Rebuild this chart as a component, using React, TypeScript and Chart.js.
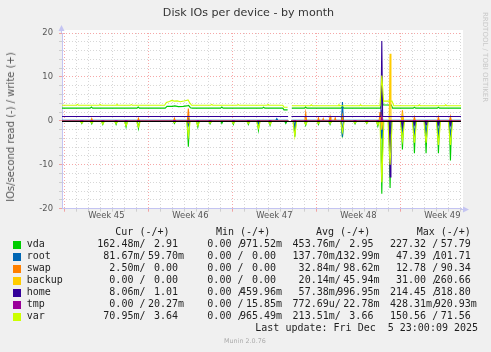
import React, { useEffect, useRef } from "react";
import { Chart, registerables } from "chart.js";

Chart.register(...registerables);

type Pt = [number, number | null];

// ---------- axes / labels ----------
const TITLE = "Disk IOs per device - by month";
const Y_TITLE = "IOs/second read (-) / write (+)";
const X_MIN = -0.2; // days since Monday of week 45
const X_MAX = 33.05;
const WEEK_LABELS = ["Week 45", "Week 46", "Week 47", "Week 48", "Week 49"];
const WEEK_LABEL_DAYS = [3.5, 10.5, 17.5, 24.5, 31.5];
const WEEK_START_DAYS = [0, 7, 14, 21, 28];
const Y_MIN = -20;
const Y_MAX = 20;
const Y_STEP = 2;
const Y_LABEL_STEP = 10;

const SERIES_NAMES = ["vda", "root", "swap", "backup", "home", "tmp", "var"];
const SERIES_COLORS = ["#00cc00", "#0066b3", "#ff8000", "#ffcc00", "#330099", "#990099", "#ccff00"];

// ---------- series (day, value) ----------
const vdaRead: Pt[] = [[-0.2,-0.05],[1.35,-0.05],[1.45,-0.6],[1.55,-0.05],[2.18,-0.05],[2.28,-0.7],[2.38,-0.05],[3.1,-0.05],[3.2,-0.8],[3.3,-0.05],[4.21,-0.05],[4.31,-0.8],[4.41,-0.05],[5.04,-0.05],[5.14,-1.4],[5.24,-0.05],[6.07,-0.05],[6.17,-1.7],[6.27,-0.05],[9.07,-0.05],[9.17,-0.6],[9.27,-0.05],[10.23,-0.05],[10.33,-5.9],[10.43,-0.05],[11.02,-0.05],[11.12,-1.4],[11.22,-0.05],[12.04,-0.05],[12.14,-0.7],[12.24,-0.05],[13.02,-0.05],[13.12,-0.6],[13.22,-0.05],[13.98,-0.05],[14.08,-0.8],[14.18,-0.05],[15.23,-0.05],[15.33,-0.8],[15.43,-0.05],[16.07,-0.05],[16.17,-2.1],[16.27,-0.05],[17.04,-0.05],[17.14,-1.0],[17.24,-0.05],[18.35,-0.05],[18.45,-0.6],[18.55,-0.05],[18.64,-0.05],[18.78,null],[18.92,-0.05],[19.1,-0.05],[19.2,-3.6],[19.3,-0.05],[20.01,-0.05],[20.11,-1.0],[20.21,-0.05],[21.07,-0.05],[21.17,-0.8],[21.27,-0.05],[22.04,-0.05],[22.14,-0.8],[22.24,-0.05],[23.07,-0.05],[23.17,-3.8],[23.27,-0.05],[24.12,-0.05],[24.22,-0.7],[24.32,-0.05],[25.1,-0.05],[25.2,-0.6],[25.3,-0.05],[26.02,-0.05],[26.12,-1.2],[26.22,-0.05],[26.35,-0.05],[26.45,-16.6],[26.55,-0.05],[27.04,-0.05],[27.14,-15.3],[27.24,-0.05],[28.07,-0.05],[28.17,-6.5],[28.27,-0.05],[29.07,-0.05],[29.17,-7.4],[29.27,-0.05],[30.04,-0.05],[30.14,-7.4],[30.24,-0.05],[31.07,-0.05],[31.17,-7.4],[31.27,-0.05],[32.07,-0.05],[32.17,-9.0],[32.27,-0.05],[33.05,-0.05]];
const vdaWrite: Pt[] = [[-0.2,2.9],[2.15,2.9],[2.25,3.15],[2.35,2.9],[6.05,2.9],[6.15,3.15],[6.25,2.9],[8.4,2.9],[8.55,3.3],[9.0,3.3],[9.2,3.4],[9.5,3.25],[9.9,3.3],[10.2,3.4],[10.35,3.5],[10.5,3.0],[10.65,2.9],[13.02,2.9],[13.12,3.15],[13.22,2.9],[16.5,2.9],[16.6,3.1],[16.7,2.9],[18.2,2.9],[18.3,2.5],[18.6,2.5],[18.78,null],[18.95,2.9],[20.0,2.9],[20.1,3.15],[20.2,2.9],[23.07,2.9],[23.17,3.3],[23.27,2.9],[26.35,2.9],[26.45,8.0],[26.55,3.6],[27.25,3.6],[27.35,2.9],[29.07,2.9],[29.17,3.1],[29.27,2.9],[31.07,2.9],[31.17,3.1],[31.27,2.9],[33.05,2.9]];
const rootRead: Pt[] = [[-0.2,-0.13],[10.25,-0.13],[10.33,-1.0],[10.41,-0.13],[16.1,-0.13],[16.17,-0.6],[16.24,-0.13],[18.64,-0.13],[18.78,null],[18.92,-0.13],[19.12,-0.13],[19.2,-1.5],[19.28,-0.13],[23.09,-0.13],[23.17,-3.6],[23.25,-0.13],[26.35,-0.13],[26.45,-4.0],[26.55,-0.13],[27.06,-0.13],[27.14,-3.0],[27.22,-0.13],[28.03,-0.13],[28.17,-2.2],[28.31,-0.13],[29.03,-0.13],[29.17,-2.8],[29.31,-0.13],[30.0,-0.13],[30.14,-2.8],[30.28,-0.13],[31.03,-0.13],[31.17,-2.8],[31.31,-0.13],[32.03,-0.13],[32.17,-3.2],[32.31,-0.13],[33.05,-0.13]];
const rootWrite: Pt[] = [[-0.2,0.13],[10.25,0.13],[10.33,0.6],[10.41,0.13],[17.62,0.13],[17.7,0.5],[17.78,0.13],[18.64,0.13],[18.78,null],[18.92,0.13],[23.09,0.13],[23.17,4.3],[23.25,0.13],[26.37,0.13],[26.45,2.5],[26.53,0.13],[28.1,0.13],[28.17,0.8],[28.24,0.13],[33.05,0.13]];
const swapRead: Pt[] = [[-0.2,0],[10.26,0],[10.33,-0.4],[10.4,0],[18.64,0],[18.78,null],[18.92,0],[26.38,0],[26.45,-0.8],[26.52,0],[33.05,0]];
const swapWrite: Pt[] = [[-0.2,0],[2.21,0],[2.28,0.5],[2.35,0],[6.1,0],[6.17,0.6],[6.24,0],[9.1,0],[9.17,0.6],[9.24,0],[10.25,0],[10.33,2.8],[10.41,0],[18.64,0],[18.78,null],[18.92,0],[20.04,0],[20.11,1.8],[20.18,0],[21.1,0],[21.17,0.7],[21.24,0],[21.5,0],[21.57,0.5],[21.64,0],[22.07,0],[22.14,1.0],[22.21,0],[22.5,0],[22.57,0.7],[22.64,0],[23.1,0],[23.17,1.2],[23.24,0],[26.23,0],[26.3,2.0],[26.37,0],[28.1,0],[28.17,2.4],[28.24,0],[29.1,0],[29.17,0.9],[29.24,0],[31.1,0],[31.17,0.9],[31.24,0],[32.1,0],[32.17,1.0],[32.24,0],[33.05,0]];
const backupRead: Pt[] = [[-0.2,0],[18.64,0],[18.78,null],[18.92,0],[26.38,0],[26.45,-2.0],[26.52,0],[33.05,0]];
const backupWrite: Pt[] = [[-0.2,0],[18.64,0],[18.78,null],[18.92,0],[26.38,0],[26.45,1.0],[26.52,0],[27.07,0],[27.14,15.3],[27.21,0],[28.1,0],[28.17,1.5],[28.24,0],[33.05,0]];
const homeRead: Pt[] = [[-0.2,-0.05],[18.64,-0.05],[18.78,null],[18.92,-0.05],[27.07,-0.05],[27.14,-12.8],[27.21,-0.05],[28.1,-0.05],[28.17,-1.2],[28.24,-0.05],[29.1,-0.05],[29.17,-0.9],[29.24,-0.05],[30.07,-0.05],[30.14,-0.9],[30.21,-0.05],[31.1,-0.05],[31.17,-0.9],[31.24,-0.05],[32.1,-0.05],[32.17,-1.0],[32.24,-0.05],[33.05,-0.05]];
const homeWrite: Pt[] = [[-0.2,1.0],[18.64,1.0],[18.78,null],[18.92,1.0],[26.38,1.0],[26.45,18.2],[26.52,1.0],[33.05,1.0]];
const tmpRead: Pt[] = [[-0.2,0],[18.64,0],[18.78,null],[18.92,0],[33.05,0]];
const tmpWrite: Pt[] = [[-0.2,0.02],[18.64,0.02],[18.78,null],[18.92,0.02],[26.38,0.02],[26.45,0.9],[26.52,0.02],[33.05,0.02]];
const varRead: Pt[] = [[-0.2,-0.1],[1.3,-0.1],[1.45,-0.5],[1.6,-0.1],[2.13,-0.1],[2.28,-0.5],[2.43,-0.1],[3.05,-0.1],[3.2,-0.7],[3.35,-0.1],[4.16,-0.1],[4.31,-0.6],[4.46,-0.1],[4.99,-0.1],[5.14,-1.1],[5.29,-0.1],[6.02,-0.1],[6.17,-1.4],[6.32,-0.1],[9.02,-0.1],[9.17,-0.4],[9.32,-0.1],[10.18,-0.1],[10.33,-3.5],[10.48,-0.1],[10.97,-0.1],[11.12,-1.1],[11.27,-0.1],[11.99,-0.1],[12.14,-0.5],[12.29,-0.1],[13.93,-0.1],[14.08,-0.6],[14.23,-0.1],[15.18,-0.1],[15.33,-0.6],[15.48,-0.1],[16.02,-0.1],[16.17,-1.7],[16.32,-0.1],[16.99,-0.1],[17.14,-0.8],[17.29,-0.1],[18.64,-0.1],[18.78,null],[18.92,-0.1],[19.05,-0.1],[19.2,-3.5],[19.35,-0.1],[19.96,-0.1],[20.11,-0.8],[20.26,-0.1],[21.02,-0.1],[21.17,-0.6],[21.32,-0.1],[21.99,-0.1],[22.14,-0.6],[22.29,-0.1],[23.02,-0.1],[23.17,-2.5],[23.32,-0.1],[24.07,-0.1],[24.22,-0.5],[24.37,-0.1],[25.05,-0.1],[25.2,-0.5],[25.35,-0.1],[25.97,-0.1],[26.12,-0.9],[26.27,-0.1],[26.3,-0.1],[26.45,-14.0],[26.62,-0.1],[26.96,-0.1],[27.14,-10.0],[27.32,-0.1],[27.99,-0.1],[28.17,-4.5],[28.35,-0.1],[28.99,-0.1],[29.17,-5.0],[29.35,-0.1],[29.96,-0.1],[30.14,-5.0],[30.32,-0.1],[30.99,-0.1],[31.17,-5.5],[31.35,-0.1],[31.99,-0.1],[32.17,-5.5],[32.35,-0.1],[33.05,-0.1]];
const varWrite: Pt[] = [[-0.2,3.55],[1.0,3.55],[1.08,3.75],[1.16,3.55],[2.9,3.55],[2.98,3.75],[3.06,3.55],[4.3,3.55],[4.38,3.75],[4.46,3.55],[5.5,3.55],[5.58,3.7],[5.66,3.55],[8.35,3.55],[8.5,4.2],[8.75,4.4],[8.95,4.65],[9.15,4.5],[9.4,4.55],[9.65,4.35],[9.95,4.5],[10.15,4.65],[10.3,4.75],[10.45,4.1],[10.6,3.55],[12.2,3.55],[12.28,3.75],[12.36,3.55],[14.4,3.55],[14.48,3.7],[14.56,3.55],[16.9,3.55],[16.98,3.75],[17.06,3.55],[18.2,3.55],[18.3,3.1],[18.6,3.1],[18.78,null],[18.95,3.45],[20.5,3.45],[20.58,3.65],[20.66,3.45],[22.8,3.45],[22.88,3.65],[22.96,3.45],[24.6,3.45],[24.68,3.65],[24.76,3.45],[26.3,3.45],[26.45,10.3],[26.6,4.5],[27.3,4.5],[27.45,3.45],[29.5,3.45],[29.58,3.65],[29.66,3.45],[31.7,3.45],[31.78,3.65],[31.86,3.45],[33.05,3.45]];

const READ_SERIES = [vdaRead, rootRead, swapRead, backupRead, homeRead, tmpRead, varRead];
const WRITE_SERIES = [vdaWrite, rootWrite, swapWrite, backupWrite, homeWrite, tmpWrite, varWrite];

// ---------- legend statistics ----------
const CUR_READ = ["162.48m", "81.67m", "2.50m", "0.00", "8.06m", "0.00", "70.95m"];
const CUR_WRITE = ["2.91", "59.70m", "0.00", "0.00", "1.01", "20.27m", "3.64"];
const MIN_READ = ["0.00", "0.00", "0.00", "0.00", "0.00", "0.00", "0.00"];
const MIN_WRITE = ["971.52m", "0.00", "0.00", "0.00", "459.96m", "15.85m", "965.49m"];
const AVG_READ = ["453.76m", "137.70m", "32.84m", "20.14m", "57.38m", "772.69u", "213.51m"];
const AVG_WRITE = ["2.95", "132.99m", "98.62m", "45.94m", "996.95m", "22.78m", "3.66"];
const MAX_READ = ["227.32", "47.39", "12.78", "31.00", "214.45", "428.31m", "150.56"];
const MAX_WRITE = ["57.79", "101.71", "90.34", "260.66", "318.80", "920.93m", "71.56"];
const COLUMN_HEADERS = ["Cur (-/+)", "Min (-/+)", "Avg (-/+)", "Max (-/+)"];
const LAST_UPDATE = "Last update: Fri Dec  5 23:00:09 2025";
const FOOTER = "Munin 2.0.76";
const WATERMARK = "RRDTOOL / TOBI OETIKER";

// ---------- styling ----------
const MAJOR_GRID = "rgba(240,110,110,0.6)";
const MINOR_GRID = "rgba(160,160,160,0.42)";
const AXIS_COLOR = "#c4c4f2";
const TICK_FONT = { family: "DejaVu Sans", size: 8.4 };
const MONO = "'DejaVu Sans Mono', monospace";

const DAY_TICKS: number[] = [];
for (let d = 0; d <= 33; d += 0.5) DAY_TICKS.push(d);

function splitSuffix(s: string): [string, string] {
  const last = s.slice(-1);
  if (/[a-zA-Z]/.test(last)) return [s.slice(0, -1), last];
  return [s, " "];
}
function readField(s: string) {
  const [n, suf] = splitSuffix(s);
  return n.padStart(6) + suf + "/";
}
function writeField(s: string) {
  const [n, suf] = splitSuffix(s);
  return n.padStart(6) + suf;
}

const muninPlugin = {
  id: "muninDeco",
  beforeDraw(chart: any) {
    const { ctx, chartArea: a } = chart;
    ctx.save();
    ctx.fillStyle = "#ffffff";
    ctx.fillRect(a.left, a.top - 3, a.right - a.left + 2, a.bottom - a.top + 3);
    ctx.restore();
  },
  afterDatasetsDraw(chart: any) {
    const { ctx, chartArea: a, scales } = chart;
    const y0 = Math.round(scales.y.getPixelForValue(0)) + 0.5;
    ctx.save();
    ctx.strokeStyle = "#000000";
    ctx.lineWidth = 1;
    ctx.beginPath();
    ctx.moveTo(a.left, y0);
    ctx.lineTo(a.right, y0);
    ctx.stroke();
    ctx.restore();
  },
  afterDraw(chart: any) {
    const { ctx, chartArea: a } = chart;
    const lx = Math.round(a.left) - 0.5;
    const by = Math.round(a.bottom) + 0.5;
    ctx.save();
    ctx.strokeStyle = AXIS_COLOR;
    ctx.fillStyle = AXIS_COLOR;
    ctx.lineWidth = 1;
    ctx.beginPath();
    ctx.moveTo(lx, a.top);
    ctx.lineTo(lx, a.top - 3);
    ctx.moveTo(a.right, by);
    ctx.lineTo(a.right + 3, by);
    ctx.stroke();
    ctx.beginPath();
    ctx.moveTo(lx - 3, a.top - 2);
    ctx.lineTo(lx + 3, a.top - 2);
    ctx.lineTo(lx, a.top - 8);
    ctx.closePath();
    ctx.fill();
    ctx.beginPath();
    ctx.moveTo(a.right + 2, by - 3);
    ctx.lineTo(a.right + 2, by + 3);
    ctx.lineTo(a.right + 8, by);
    ctx.closePath();
    ctx.fill();
    ctx.restore();
  },
};

export default function App() {
  const canvasRef = useRef<HTMLCanvasElement | null>(null);

  useEffect(() => {
    const canvas = canvasRef.current;
    if (!canvas) return;
    const datasets: any[] = [];
    SERIES_NAMES.forEach((name, i) => {
      const order = SERIES_NAMES.length - i;
      [READ_SERIES[i], WRITE_SERIES[i]].forEach((pts, k) => {
        datasets.push({
          label: name + (k === 0 ? " read" : " write"),
          data: pts.map(([x, y]) => ({ x, y })),
          borderColor: SERIES_COLORS[i],
          backgroundColor: SERIES_COLORS[i],
          borderWidth: 1.1,
          pointRadius: 0,
          tension: 0,
          fill: false,
          spanGaps: false,
          order: order * 2 - k,
        });
      });
    });

    const chart = new Chart(canvas, {
      type: "line",
      data: { datasets },
      plugins: [muninPlugin],
      options: {
        responsive: false,
        animation: false,
        devicePixelRatio: 1,
        events: [],
        layout: { padding: { top: 33, right: 30, left: 0, bottom: 0 } },
        plugins: { legend: { display: false }, tooltip: { enabled: false }, title: { display: false } },
        scales: {
          x: {
            type: "linear",
            min: X_MIN,
            max: X_MAX,
            afterBuildTicks: (axis: any) => {
              axis.ticks = DAY_TICKS.map((v) => ({ value: v }));
            },
            afterFit: (scale: any) => {
              scale.height = 352 - 208.7;
            },
            ticks: {
              autoSkip: false,
              maxRotation: 0,
              minRotation: 0,
              padding: -1,
              color: "#555555",
              font: TICK_FONT,
              callback: (value: any) => {
                const idx = WEEK_LABEL_DAYS.indexOf(Number(value));
                return idx >= 0 ? WEEK_LABELS[idx] : "";
              },
            },
            grid: {
              color: (ctx: any) => {
                const v = ctx.tick ? ctx.tick.value : null;
                if (v === null || v === undefined) return "rgba(0,0,0,0)";
                if (WEEK_START_DAYS.includes(v)) return MAJOR_GRID;
                if (Number.isInteger(v)) return MINOR_GRID;
                return "rgba(0,0,0,0)";
              },
              tickLength: 3,
              tickBorderDash: [],
            },
            border: { display: true, color: AXIS_COLOR, width: 1, dash: [1, 2] },
          },
          y: {
            type: "linear",
            min: Y_MIN,
            max: Y_MAX,
            afterFit: (scale: any) => {
              scale.width = 62;
            },
            ticks: {
              stepSize: Y_STEP,
              autoSkip: false,
              padding: 6,
              color: "#555555",
              font: TICK_FONT,
              callback: (value: any) => (Number(value) % Y_LABEL_STEP === 0 ? String(value) : ""),
            },
            grid: {
              color: (ctx: any) => {
                const v = ctx.tick ? ctx.tick.value : 0;
                return v % Y_LABEL_STEP === 0 ? MAJOR_GRID : MINOR_GRID;
              },
              tickLength: 3,
              tickBorderDash: [],
            },
            border: { display: true, color: AXIS_COLOR, width: 1, dash: [1, 2] },
          },
        },
      } as any,
    });
    return () => chart.destroy();
  }, []);

  const readX = [97.3, 195.3, 292.6, 390];
  const writeOffset = 44.7;
  const headerX = [115.3, 216, 316, 416.7];
  const textStyle: React.CSSProperties = {
    position: "absolute",
    fontFamily: MONO,
    fontSize: 10,
    lineHeight: "12px",
    whiteSpace: "pre",
    color: "#1e1e1e",
  };
  const rowTop = (c: number) => c - 6.3;
  const columns = [
    [CUR_READ, CUR_WRITE],
    [MIN_READ, MIN_WRITE],
    [AVG_READ, AVG_WRITE],
    [MAX_READ, MAX_WRITE],
  ];

  return (
    <div
      style={{
        position: "absolute",
        left: 0,
        top: 0,
        width: 491,
        height: 352,
        background: "#f0f0f0",
        overflow: "hidden",
      }}
    >
      <canvas ref={canvasRef} width={491} height={352} style={{ position: "absolute", left: 0, top: 0 }} />
      <div
        style={{
          position: "absolute",
          left: 248.5,
          top: 5.5,
          transform: "translateX(-50%)",
          whiteSpace: "nowrap",
          fontFamily: "'DejaVu Sans'",
          fontSize: 11.1,
          lineHeight: "13px",
          color: "#333333",
        }}
      >
        {TITLE}
      </div>
      <div
        style={{
          position: "absolute",
          left: 10.7,
          top: 126.7,
          transform: "translate(-50%, -50%) rotate(-90deg)",
          whiteSpace: "nowrap",
          fontFamily: "'DejaVu Sans'",
          fontSize: 10,
          lineHeight: "12px",
          color: "#555555",
        }}
      >
        {Y_TITLE}
      </div>
      <div
        style={{
          position: "absolute",
          left: 480.8,
          top: 11.7,
          writingMode: "vertical-rl",
          whiteSpace: "nowrap",
          fontFamily: "'DejaVu Sans'",
          fontSize: 7,
          lineHeight: "7px",
          color: "#c8c8c8",
        }}
      >
        {WATERMARK}
      </div>
      {COLUMN_HEADERS.map((h, j) => (
        <div key={"h" + j} style={{ ...textStyle, left: headerX[j], top: rowTop(232.3) }}>
          {h}
        </div>
      ))}
      {SERIES_NAMES.map((name, i) => {
        const c = 244.7 + 12 * i;
        return (
          <React.Fragment key={name}>
            <div
              style={{
                position: "absolute",
                left: 13,
                top: c - 3.5,
                width: 8,
                height: 8,
                background: SERIES_COLORS[i],
              }}
            />
            <div style={{ ...textStyle, left: 26.7, top: rowTop(c) }}>{name}</div>
            {columns.map(([rd, wr], j) => (
              <React.Fragment key={j}>
                <div style={{ ...textStyle, left: readX[j], top: rowTop(c) }}>{readField(rd[i])}</div>
                <div style={{ ...textStyle, left: readX[j] + writeOffset, top: rowTop(c) }}>
                  {writeField(wr[i])}
                </div>
              </React.Fragment>
            ))}
          </React.Fragment>
        );
      })}
      <div style={{ ...textStyle, left: 255.3, top: rowTop(328.7) }}>{LAST_UPDATE}</div>
      <div
        style={{
          position: "absolute",
          left: 224,
          top: 336.7,
          whiteSpace: "nowrap",
          fontFamily: "'DejaVu Sans'",
          fontSize: 6.4,
          lineHeight: "8px",
          color: "#ababab",
        }}
      >
        {FOOTER}
      </div>
    </div>
  );
}
